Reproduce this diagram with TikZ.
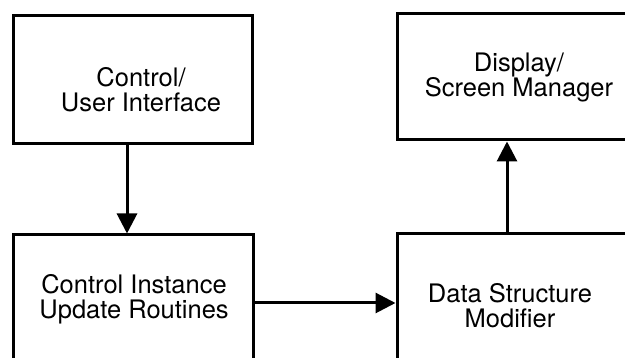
\documentclass[tikz,border=0pt]{standalone}
\usepackage{fontspec}
\setmainfont{TeX Gyre Heros}
\usetikzlibrary{arrows.meta}
\tikzset{
  box/.style={draw, line width=3pt, inner sep=0pt},
  lbl/.style={align=center, inner sep=0pt, font=\fontsize{25.5pt}{25pt}\selectfont},
  flow/.style={line width=3pt, -{Triangle[length=20pt,width=20pt]}}
}
\begin{document}
\begin{tikzpicture}[x=1pt,y=1pt]
  \path[use as bounding box, clip] (0,0) rectangle (625,358);
  % boxes, the lower and right ones run off the page
  \node[box, minimum width=239pt, minimum height=128pt] (ui) at (132.5,278) {};
  \node[box, minimum width=240pt, minimum height=128pt] (upd) at (133,59) {};
  \node[box, minimum width=246pt, minimum height=126pt] (disp) at (520,281) {};
  \node[box, minimum width=246pt, minimum height=144pt] (dsm) at (520,52) {};
  % texts
  \node[lbl] (uitext) at (141,268) {Control/\\User Interface};
  \node[lbl] (updtext) at (134,59) {Control Instance\\Update Routines};
  \node[lbl] (disptext) at (519,281) {Display/\\Screen Manager};
  \node[lbl] (dsmtext) at (510,52) {Data Structure\\Modifier};
  % connectors
  \draw[flow] ([xshift=-5.5pt]ui.south) -- ([xshift=-5.5pt]ui.south |- upd.north);
  \draw[flow] ([yshift=-4pt]upd.east) -- ([yshift=-4pt]upd.east -| dsm.west);
  \draw[flow] ([xshift=-13pt]dsm.north) -- ([xshift=-13pt]dsm.north |- disp.south);
\end{tikzpicture}
\end{document}
